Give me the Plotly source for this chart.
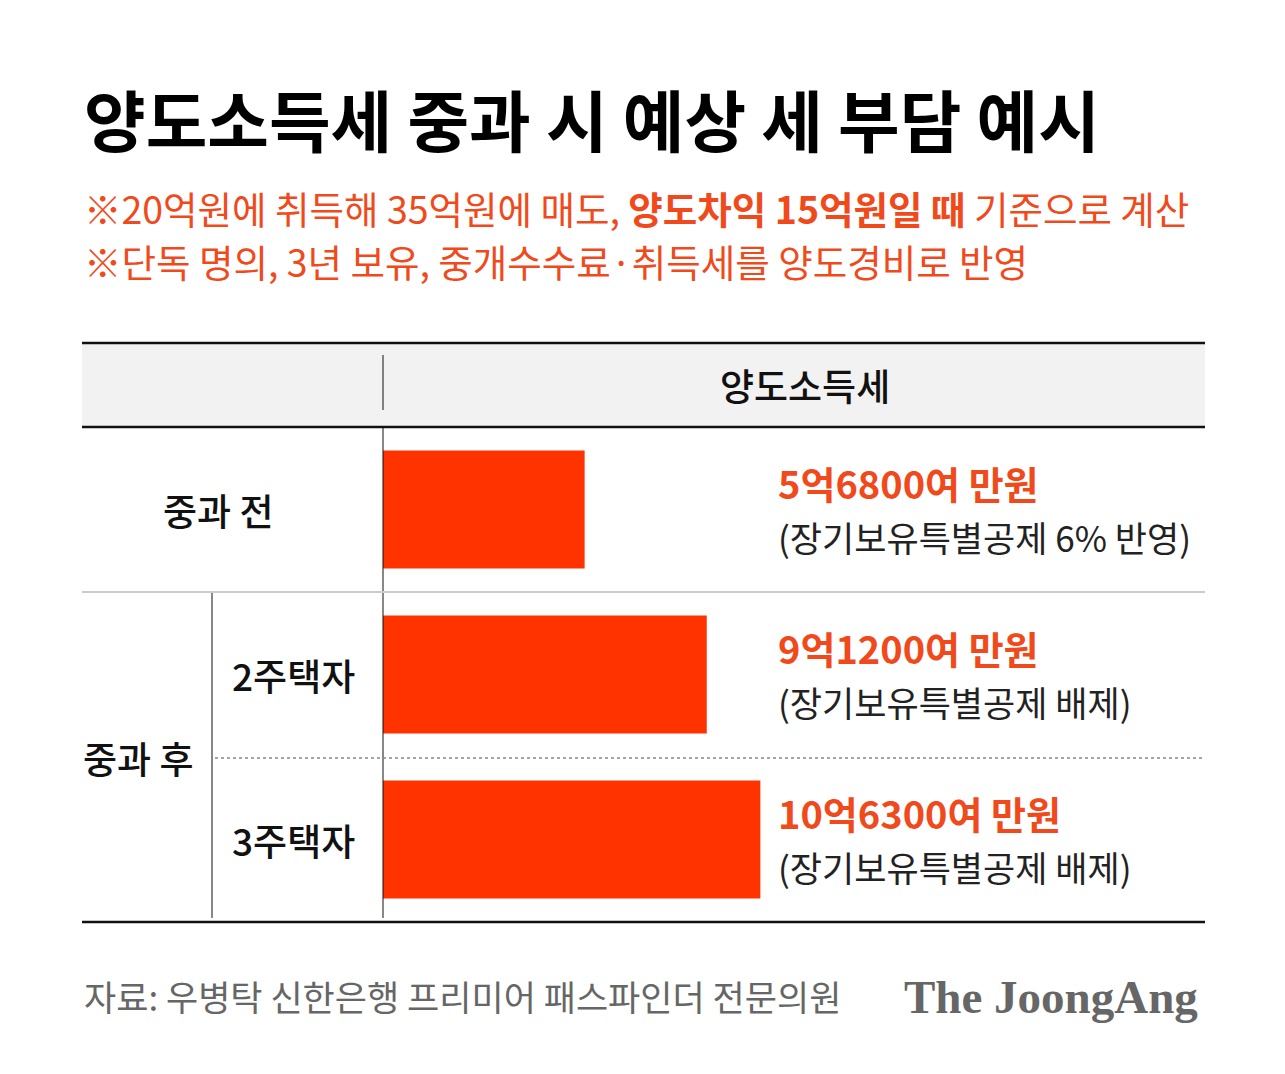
import plotly.graph_objects as go

# 양도소득세 (억원)
rows = ["중과 전", "2주택자", "3주택자"]
tax = [5.68, 9.12, 10.63]
value_labels = ["5억6800여 만원", "9억1200여 만원", "10억6300여 만원"]
notes = ["(장기보유특별공제 6% 반영)", "(장기보유특별공제 배제)", "(장기보유특별공제 배제)"]

# page body has an 8px margin, so the figure is drawn 8px in from the corner
OFF = 8
W, H = 1285 - OFF, 1074 - OFF
L, R, T, B = 383, 1205, 427, 922   # plot area in screen pixels
KR = "Noto Sans CJK KR"
RED = "#ff3300"
TXT_RED = "#f04a1c"


def px(xp):
    return (xp - L) / (R - L)


def py(yp):
    return (B - yp) / (B - T)


fig = go.Figure(go.Bar(
    x=tax, y=rows, orientation="h",
    marker=dict(color=RED, line=dict(width=0)),
    hoverinfo="skip",
))

ann = []
# title / notes
ann.append(dict(x=px(82), y=py(117), text="<b>양도소득세 중과 시 예상 세 부담 예시</b>",
                font=dict(size=67, color="#000000", family=KR, weight=900), xanchor="left"))
ann.append(dict(x=px(82), y=py(207),
                text="※20억원에 취득해 35억원에 매도, <b>양도차익 15억원일 때</b> 기준으로 계산",
                font=dict(size=37.5, color=TXT_RED, family=KR), xanchor="left"))
ann.append(dict(x=px(82), y=py(260),
                text="※단독 명의, 3년 보유, 중개수수료·취득세를 양도경비로 반영",
                font=dict(size=37.5, color=TXT_RED, family=KR), xanchor="left"))
ann.append(dict(x=px(805), y=py(385), text="양도소득세",
                font=dict(size=37, color="#111111", family=KR, weight=500)))

# row labels
ann.append(dict(x=px(218), y=rows[0], yref="y", text="중과 전",
                font=dict(size=37, color="#111111", family=KR, weight=500)))
for r in rows[1:]:
    ann.append(dict(x=px(293), y=r, yref="y", text=r,
                    font=dict(size=37, color="#111111", family=KR, weight=500)))
ann.append(dict(x=px(138), y=py(758), text="중과 후",
                font=dict(size=37, color="#111111", family=KR, weight=500)))

# value labels
for r, v, n in zip(rows, value_labels, notes):
    ann.append(dict(x=px(776), y=r, yref="y", yshift=27, text="<b>" + v + "</b>",
                    font=dict(size=38, color=TXT_RED, family=KR), xanchor="left"))
    ann.append(dict(x=px(776), y=r, yref="y", yshift=-27, text=n,
                    font=dict(size=35, color="#222222", family=KR), xanchor="left"))

# footer
ann.append(dict(x=px(82), y=py(995), text="자료: 우병탁 신한은행 프리미어 패스파인더 전문의원",
                font=dict(size=35, color="#666666", family=KR), xanchor="left"))
ann.append(dict(x=px(1200), y=py(997), text="<b>The JoongAng</b>",
                font=dict(size=47, color="#666666", family="Liberation Serif"), xanchor="right"))

for a in ann:
    a.setdefault("xref", "paper")
    a.setdefault("yref", "paper")
    a["showarrow"] = False
    a.setdefault("xanchor", "center")
    a.setdefault("yanchor", "middle")

shapes = [
    dict(type="rect", x0=px(82), x1=px(1205), y0=py(343), y1=py(427),
         fillcolor="#f2f2f2", line=dict(width=0), layer="below"),
    dict(type="line", x0=px(82), x1=px(1205), y0=py(343), y1=py(343), line=dict(color="#111111", width=2.5)),
    dict(type="line", x0=px(82), x1=px(1205), y0=py(427), y1=py(427), line=dict(color="#111111", width=2.5)),
    dict(type="line", x0=px(383), x1=px(383), y0=py(355), y1=py(410), line=dict(color="#111111", width=1)),
    dict(type="line", x0=px(383), x1=px(383), y0=py(427), y1=py(918), line=dict(color="#111111", width=1)),
    dict(type="line", x0=px(212), x1=px(212), y0=py(592), y1=py(918), line=dict(color="#111111", width=1)),
    dict(type="line", x0=px(82), x1=px(1205), y0=py(592), y1=py(592), line=dict(color="#cccccc", width=2)),
    dict(type="line", x0=px(215), x1=px(1205), y0=py(758), y1=py(758),
         line=dict(color="#888888", width=1.5, dash="dot")),
    dict(type="line", x0=px(82), x1=px(1205), y0=py(922), y1=py(922), line=dict(color="#111111", width=2.5)),
]
for s in shapes:
    s["xref"] = "paper"
    s["yref"] = "paper"

fig.update_layout(
    width=W, height=H,
    margin=dict(l=L - OFF, r=1285 - R, t=T - OFF, b=1074 - B),
    paper_bgcolor="white", plot_bgcolor="white",
    bargap=0.285, showlegend=False,
    xaxis=dict(range=[0, (R - L) / 35.5], visible=False, fixedrange=True),
    yaxis=dict(range=[2.5, -0.5], visible=False, fixedrange=True),
    annotations=ann, shapes=shapes,
    font=dict(family=KR),
)

fig.write_html("out.html")
